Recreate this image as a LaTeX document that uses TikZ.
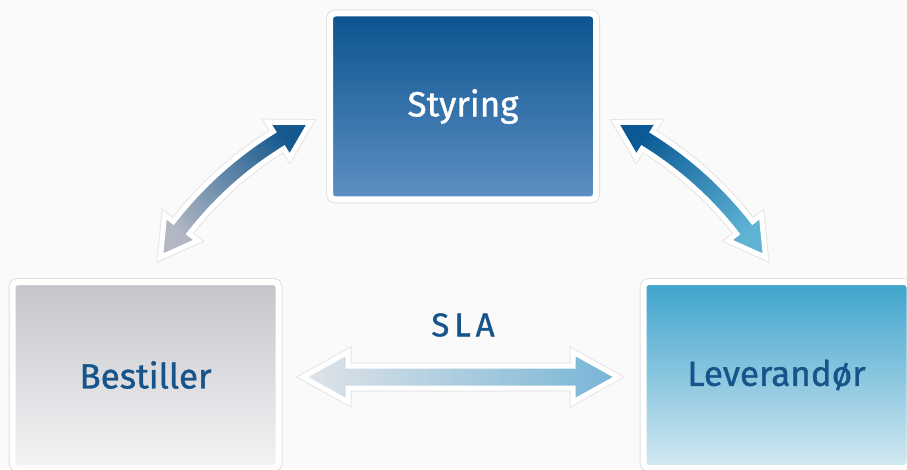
\documentclass[tikz,border=0pt]{standalone}
\usepackage{fontspec}
\setmainfont{Fira Sans}
\usepackage{xcolor}
\usetikzlibrary{calc,positioning}
\definecolor{bg}{HTML}{FAFAFA}
\definecolor{styrtop}{HTML}{0A5490}
\definecolor{styrbot}{HTML}{5F8FC3}
\definecolor{bestop}{HTML}{C5C6CB}
\definecolor{besbot}{HTML}{F3F3F5}
\definecolor{levtop}{HTML}{3DA2CB}
\definecolor{levbot}{HTML}{D5EAF3}
\definecolor{textblue}{HTML}{17548A}
\definecolor{arrgray}{HTML}{B2B7C3}
\definecolor{arrblue}{HTML}{15598F}
\definecolor{arrdark}{HTML}{0B5A96}
\definecolor{arrcyan}{HTML}{5FB4D4}
\definecolor{slagray}{HTML}{E0E4E8}
\definecolor{slablue}{HTML}{76B5D6}
\tikzset{%
	box/.style  = {rectangle, rounded corners=5pt, minimum width=266pt, minimum height=186pt, draw=white, line width=6pt, preaction={draw=black!12, line width=8pt}, font=\fontsize{35}{40}\selectfont\addfontfeature{FakeBold=1}, text centered},
	band/.style = {draw=white, line width=5pt, line join=miter, preaction={draw=black!10, line width=7pt}},
}
\begin{document}
\begin{tikzpicture}[x=1pt,y=1pt]
	\useasboundingbox[fill=bg] (0,0) rectangle (907,469);
	% the three parties
	\node[box, top color=styrtop, bottom color=styrbot, text=white] (styring) at (463,362.5) {Styring};
	\node[box, top color=bestop, bottom color=besbot, text=textblue] (bestiller) at (145.5,94) {Bestiller};
	\node[box, top color=levtop, bottom color=levbot, text=textblue] (leverandor) at (776.5,94) {Leverandør};
	
	% Bestiller <-> Styring, arc round a centre low in the picture
	\begin{scope}[shift={(473.6,14.5)}]
	\path[band, bottom color=arrgray, top color=arrblue, shading angle=-48]
		(121.8:380) arc[start angle=121.8, end angle=142.2, radius=380] -- (142.2:391) -- (147.8:370) -- (142.2:349) -- (142.2:360)
		arc[start angle=142.2, end angle=121.8, radius=360] -- (121.8:349) -- (116.2:370) -- (121.8:391) -- cycle;
	\end{scope}
	
	% Styring <-> Leverandor, the mirror of the one above
	\begin{scope}[shift={(452.4,14.5)}]
	\path[band, bottom color=arrcyan, top color=arrdark, shading angle=48]
		(58.2:380) arc[start angle=58.2, end angle=37.8, radius=380] -- (37.8:391) -- (32.2:370) -- (37.8:349) -- (37.8:360)
		arc[start angle=37.8, end angle=58.2, radius=360] -- (58.2:349) -- (63.8:370) -- (58.2:391) -- cycle;
	\end{scope}
	
	% SLA
	\path[band, left color=slagray, right color=slablue]
		(303,92) -- (348,117) -- (348,103) -- (573,103) -- (573,117) -- (618,92)
		-- (573,67) -- (573,81) -- (348,81) -- (348,67) -- cycle;
	\node[font=\fontsize{33}{38}\selectfont\addfontfeature{LetterSpace=15,FakeBold=1}, text=textblue] (sla) at (463,144) {SLA};
\end{tikzpicture}
\end{document}
